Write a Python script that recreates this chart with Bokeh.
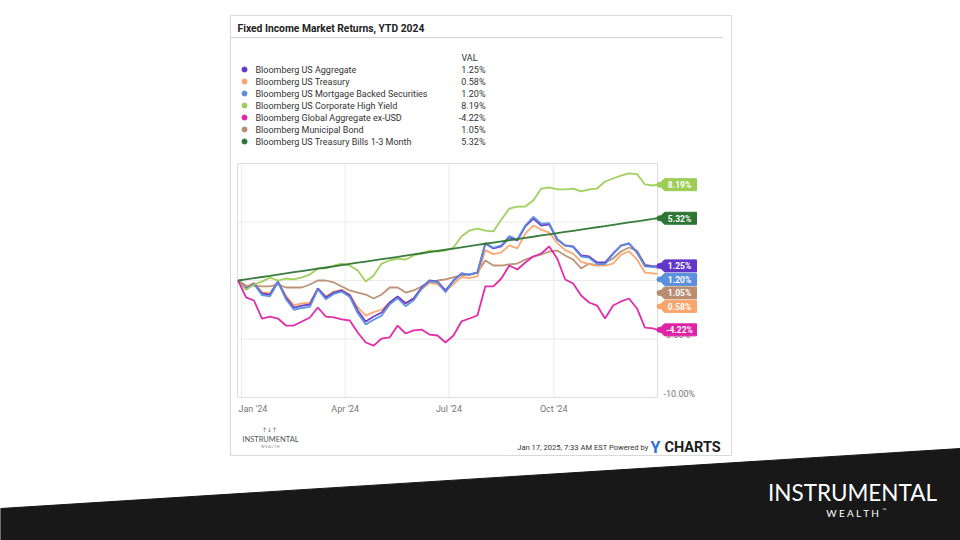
import pandas as pd
from bokeh.plotting import figure
from bokeh.models import Range1d
from bokeh.embed import file_html
from bokeh.resources import INLINE
from bokeh.core.properties import value

# ---------------- data ----------------
TITLE = "Fixed Income Market Returns, YTD 2024"
dates = (["2023-12-29"]
         + [d.strftime("%Y-%m-%d") for d in pd.date_range("2024-01-05", "2024-12-27", freq="W-FRI")]
         + ["2024-12-31"])

names = ["Bloomberg US Aggregate", "Bloomberg US Treasury",
         "Bloomberg US Mortgage Backed Securities", "Bloomberg US Corporate High Yield",
         "Bloomberg Global Aggregate ex-USD", "Bloomberg Municipal Bond",
         "Bloomberg US Treasury Bills 1-3 Month"]
colors = ["#6236c9", "#fba46c", "#5b8fdf", "#9ccd55", "#df22a6", "#b88d71", "#2d7533"]

agg = [0, -0.68, -0.26, -1.11, -1.20, -0.09, -1.45, -2.31, -2.14, -2.05, -0.68, -1.45, -1.03, -0.85,
       -1.28, -2.56, -3.50, -3.08, -2.74, -1.88, -1.37, -1.97, -1.54, -0.60, 0.00, -0.09, -0.85, 0.00,
       0.60, 0.51, 0.68, 3.16, 2.74, 2.91, 3.68, 3.42, 4.62, 5.30, 4.70, 4.79, 3.50, 2.99, 2.91, 2.14,
       2.05, 1.54, 1.54, 2.31, 2.99, 3.16, 2.39, 1.28, 1.20, 1.25]
treasury = [0, -0.6, -0.2, -1.0, -1.1, -0.1, -1.3, -2.1, -1.95, -1.9, -0.7, -1.35, -0.95, -0.8,
            -1.2, -2.3, -3.0, -2.7, -2.5, -1.9, -1.4, -1.9, -1.55, -0.75, -0.2, -0.3, -0.9, -0.3,
            0.3, 0.2, 0.35, 2.6, 2.25, 2.4, 3.0, 2.75, 4.0, 4.7, 4.35, 4.1, 3.2, 2.6, 2.3, 1.6,
            1.4, 1.28, 1.28, 1.45, 2.2, 2.5, 1.8, 0.68, 0.6, 0.58]
mbs = [0, -0.75, -0.3, -1.25, -1.35, -0.15, -1.6, -2.5, -2.35, -2.25, -0.75, -1.6, -1.15, -0.95,
       -1.4, -2.8, -3.75, -3.35, -3.0, -2.05, -1.5, -2.2, -1.7, -0.7, -0.05, -0.15, -1.0, -0.05,
       0.6, 0.5, 0.7, 3.2, 2.8, 3.0, 3.8, 3.5, 4.7, 5.45, 4.85, 4.9, 3.55, 3.0, 2.85, 2.05,
       1.95, 1.4, 1.4, 2.25, 3.0, 3.2, 2.4, 1.2, 1.15, 1.20]
high_yield = [0, -0.8, -0.35, -0.1, 0.25, 0.0, 0.17, 0.09, 0.26, 0.51, 1.03, 1.03, 1.28, 1.45,
              1.28, 0.85, -0.09, 0.43, 1.45, 1.71, 1.88, 1.79, 2.14, 2.31, 2.56, 2.48, 2.56, 2.82,
              3.76, 4.27, 4.44, 4.27, 4.19, 5.21, 6.15, 6.32, 6.32, 6.84, 7.86, 7.95, 7.78, 7.78,
              7.86, 7.61, 7.78, 7.86, 8.46, 8.72, 8.97, 9.15, 9.10, 8.21, 8.12, 8.19]
global_ex_usd = [0, -1.45, -1.71, -3.25, -3.08, -3.25, -3.85, -3.85, -3.50, -3.16, -2.31, -3.08,
                 -3.16, -3.33, -3.42, -4.44, -5.30, -5.56, -4.96, -4.87, -3.85, -4.53, -4.27, -4.19,
                 -4.62, -4.70, -5.30, -4.70, -3.50, -3.25, -2.99, -0.50, -0.51, 0.17, 1.28, 0.94,
                 1.54, 2.05, 2.31, 2.91, 1.88, 0.09, -0.26, -1.28, -1.88, -2.14, -3.25, -2.14,
                 -1.79, -1.54, -2.39, -4.02, -4.10, -4.22]
muni = [0, -0.43, -0.43, -0.51, -0.51, -0.34, -0.60, -0.60, -0.60, -0.34, 0.0, 0.0, -0.17, -0.51,
        -0.85, -1.03, -1.20, -1.54, -1.20, -0.60, -0.60, -1.03, -0.85, -0.51, -0.17, 0.0, 0.09, 0.26,
        0.43, 0.51, 0.68, 1.71, 1.28, 1.28, 1.37, 1.45, 1.79, 2.05, 2.22, 2.48, 2.56, 2.14, 1.79,
        1.03, 1.45, 1.28, 1.54, 1.88, 2.48, 2.82, 2.56, 1.37, 1.20, 1.05]
tbills = [0.00, 0.10, 0.20, 0.30, 0.40, 0.51, 0.61, 0.71, 0.81, 0.91, 1.01, 1.11, 1.21, 1.32,
          1.42, 1.52, 1.62, 1.72, 1.82, 1.92, 2.02, 2.13, 2.23, 2.33, 2.43, 2.53, 2.63, 2.73,
          2.83, 2.93, 3.04, 3.14, 3.24, 3.34, 3.44, 3.54, 3.64, 3.74, 3.85, 3.95, 4.05, 4.15,
          4.25, 4.35, 4.45, 4.55, 4.65, 4.76, 4.86, 4.96, 5.06, 5.16, 5.26, 5.32]

series = [agg, treasury, mbs, high_yield, global_ex_usd, muni, tbills]

x_tick_dates = ["2024-01-01", "2024-04-01", "2024-07-01", "2024-10-01"]
x_tick_labels = ["Jan '24", "Apr '24", "Jul '24", "Oct '24"]
y_ticks = [5, 0, -5, -10]
y_tick_labels = ["5.00%", "0.00%", "-5.00%", "-10.00%"]
X_DOMAIN = ("2023-12-28 12:00", "2024-12-31")
Y_DOMAIN = (-10, 10)

# ---------------- layout ----------------
OX, OY, CW, CH = 0, 0, 960, 540              # canvas placement on the page
PX_L, PX_R, PY_T, PY_B = 237, 657, 163, 397  # chart frame on the page


def ms(t):
    return pd.Timestamp(t).value / 1e6


xlo, xhi = ms(X_DOMAIN[0]), ms(X_DOMAIN[1])
kx = (xhi - xlo) / (PX_R - PX_L)
ky = (Y_DOMAIN[1] - Y_DOMAIN[0]) / (PY_B - PY_T)

p = figure(width=CW, height=CH, x_range=Range1d(OX, OX + CW), y_range=Range1d(OY + CH, OY),
           x_axis_type=None, y_axis_type=None, toolbar_location=None, output_backend="svg",
           min_border=0, outline_line_color=None, background_fill_color="white",
           border_fill_color="white")
p.extra_x_ranges = {"t": Range1d(xlo - (PX_L - OX) * kx, xhi + (OX + CW - PX_R) * kx)}
p.extra_y_ranges = {"pct": Range1d(Y_DOMAIN[0] - (OY + CH - PY_B) * ky, Y_DOMAIN[1] + (PY_T - OY) * ky)}
R = dict(x_range_name="t", y_range_name="pct")
F = value("Roboto")


def to_py(v):
    return PY_B - (v - Y_DOMAIN[0]) / ky


# slide background band
p.patch(x=[0, 960, 960, 0], y=[508, 448, 540, 540], color="#181818")
p.text(x=[852], y=[492], text=["INSTRUMENTAL"], text_font=value("Lato"), text_font_size="22.5px",
       text_color="white", text_align="center", text_baseline="middle")
p.text(x=[853], y=[512.5], text=["W E A L T H"], text_font=value("Lato"), text_font_size="10px",
       text_color="white", text_align="center", text_baseline="middle")
p.text(x=[882], y=[509], text=["™"], text_font=value("Lato"), text_font_size="5px",
       text_color="white", text_align="left", text_baseline="middle")

# card
p.quad(left=[230], right=[731], top=[15], bottom=[455], fill_color="white", line_color="#d9d9d9")
p.text(x=[237], y=[28], text=[TITLE], text_font=F, text_font_style="bold", text_font_size="10.3px",
       text_color="#222222", text_baseline="middle")
p.segment(x0=[230], x1=[722], y0=[37], y1=[37], line_color="#d0d0d0", line_width=1)

# legend table
rows_y = [69 + 12 * i for i in range(len(names))]
p.text(x=[477], y=[57], text=["VAL"], text_font=F, text_font_size="9px", text_color="#333333",
       text_align="right", text_baseline="middle")
p.scatter(x=[244] * len(names), y=rows_y, size=5, color=colors)
p.text(x=[255] * len(names), y=rows_y, text=names, text_font=F, text_font_size="9px",
       text_color="#333333", text_baseline="middle")
p.text(x=[485] * len(names), y=rows_y, text=[f"{s[-1]:.2f}%" for s in series], text_font=F,
       text_font_size="9px", text_color="#333333", text_align="right", text_baseline="middle")

# chart grid and frame
xt = [ms(d) for d in x_tick_dates]
p.segment(x0=xt, x1=xt, y0=[Y_DOMAIN[0]] * 4, y1=[Y_DOMAIN[1]] * 4, line_color="#ebebeb", **R)
p.segment(x0=[xlo] * 3, x1=[xhi] * 3, y0=y_ticks[:3], y1=y_ticks[:3], line_color="#ebebeb", **R)
p.quad(left=[xlo], right=[xhi], bottom=[Y_DOMAIN[0]], top=[Y_DOMAIN[1]], fill_color=None,
       line_color="#dedede", **R)

# axis labels
p.text(x=xt[:1], y=[Y_DOMAIN[0]] * 1, text=x_tick_labels[:1], text_font=F, text_font_size="9px",
       text_color="#777777", text_align="left", text_baseline="middle", x_offset=-3, y_offset=11, **R)
p.text(x=xt[1:], y=[Y_DOMAIN[0]] * 3, text=x_tick_labels[1:], text_font=F, text_font_size="9px",
       text_color="#777777", text_align="center", text_baseline="middle", y_offset=11, **R)
p.text(x=[xhi] * 4, y=y_ticks, text=y_tick_labels, text_font=F, text_font_size="9px",
       text_color="#777777", text_align="left", text_baseline="middle", x_offset=6, y_offset=-4, **R)

# lines
xd = [ms(d) for d in dates]
for idx in [5, 1, 0, 2, 3, 4, 6]:
    p.line(x=xd, y=series[idx], line_color=colors[idx], line_width=1.8, line_alpha=0.95, **R)

# end badges
order = sorted(range(len(series)), key=lambda i: -series[i][-1])
prev = None
for i in order:
    yc = to_py(series[i][-1])
    if prev is not None and yc < prev + 13.5:
        yc = prev + 13.5
    prev = yc
    p.patch(x=[658, 664, 696, 696, 664], y=[yc, yc - 6, yc - 6, yc + 6, yc + 6], color=colors[i])
    p.scatter(x=[659], y=[yc], size=5, color=colors[i])
    p.text(x=[679], y=[yc + 0.5], text=[f"{series[i][-1]:.2f}%"], text_font=F, text_font_style="bold",
           text_font_size="8.5px", text_color="white", text_align="center", text_baseline="middle")

# card footer
p.text(x=[269], y=[429], text=["↑↓↑"], text_font=value("DejaVu Sans"), text_font_size="6px",
       text_color="#666666", text_align="center", text_baseline="middle")
p.text(x=[270], y=[439], text=["INSTRUMENTAL"], text_font=value("Lato"), text_font_size="7.5px",
       text_color="#555555", text_align="center", text_baseline="middle")
p.text(x=[270], y=[446.5], text=["W E A L T H"], text_font=value("Lato"), text_font_size="3.5px",
       text_color="#777777", text_align="center", text_baseline="middle")
p.text(x=[648], y=[447], text=["Jan 17, 2025, 7:33 AM EST Powered by"], text_font=F,
       text_font_size="7.6px", text_color="#333333", text_align="right", text_baseline="middle")
p.text(x=[650], y=[447], text=["Y"], text_font=F, text_font_style="bold", text_font_size="16px",
       text_color="#2b6fe0", text_align="left", text_baseline="middle")
p.text(x=[664], y=[447], text=["CHARTS"], text_font=F, text_font_style="bold", text_font_size="14.5px",
       text_color="#1d1d1d", text_align="left", text_baseline="middle")

open("out.html", "w").write(file_html(p, INLINE))
